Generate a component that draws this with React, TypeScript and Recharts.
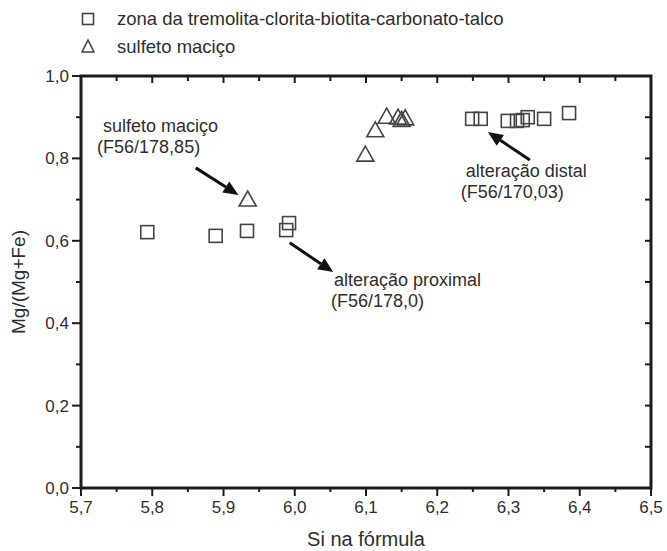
import React from 'react';
import { ScatterChart, Scatter, XAxis, YAxis, ReferenceLine, ReferenceDot } from 'recharts';

// series
const seriesNames = ['zona da tremolita-clorita-biotita-carbonato-talco', 'sulfeto maciço'];
const zonaSi = [5.793, 5.889, 5.933, 5.988, 5.992, 6.249, 6.261, 6.299, 6.312, 6.32, 6.327, 6.35, 6.385];
const zonaMg = [0.621, 0.612, 0.624, 0.626, 0.643, 0.896, 0.896, 0.891, 0.891, 0.893, 0.9, 0.896, 0.91];
const sulfetoSi = [5.934, 6.099, 6.113, 6.129, 6.145, 6.15, 6.155];
const sulfetoMg = [0.699, 0.808, 0.867, 0.9, 0.898, 0.892, 0.896];

// axes
const xTicks = [5.7, 5.75, 5.8, 5.85, 5.9, 5.95, 6.0, 6.05, 6.1, 6.15, 6.2, 6.25, 6.3, 6.35, 6.4, 6.45, 6.5];
const xMajor = [5.7, 5.8, 5.9, 6.0, 6.1, 6.2, 6.3, 6.4, 6.5];
const yTicks = [0, 0.1, 0.2, 0.3, 0.4, 0.5, 0.6, 0.7, 0.8, 0.9, 1.0];
const yMajor = [0, 0.2, 0.4, 0.6, 0.8, 1.0];
const xDomain = [5.7, 6.5];
const yDomain = [0, 1];
const xTitle = 'Si na fórmula';
const yTitle = 'Mg/(Mg+Fe)';

// annotations
const notes = [
  { lines: ['sulfeto maciço', '(F56/178,85)'], at: [5.731, 0.864], dx: [0, -6] },
  { lines: ['alteração proximal', '(F56/178,0)'], at: [6.055, 0.49], dx: [0, -3] },
  { lines: ['alteração distal', '(F56/170,03)'], at: [6.24, 0.755], dx: [0, -5] },
];
const arrows = [
  { from: [5.861, 0.777], to: [5.921, 0.711] },
  { from: [5.993, 0.595], to: [6.054, 0.524] },
  { from: [6.33, 0.796], to: [6.271, 0.864] },
];

const zonaData = zonaSi.map((x, i) => ({ x, y: zonaMg[i] }));
const sulfetoData = sulfetoSi.map((x, i) => ({ x, y: sulfetoMg[i] }));

const FONT = '"Liberation Sans", Arial, sans-serif';
const INK = '#1c1c1c';
const TXT = '#2e2e2e';
const MARK = '#444';

// chart layout
const W = 667;
const H = 551;
const MARGIN = { top: 76, right: 16, bottom: 0, left: 0 };
const Y_AXIS_W = 81;
const X_AXIS_H = 63;
const PLOT_L = MARGIN.left + Y_AXIS_W;
const PLOT_T = MARGIN.top;
const PLOT_W = W - MARGIN.left - MARGIN.right - Y_AXIS_W;
const PLOT_H = H - MARGIN.top - MARGIN.bottom - X_AXIS_H;
const TS = 6; // axis tickSize; the custom ticks draw their own marks

const fmt = (v: number) => v.toFixed(1).replace('.', ',');
const isIn = (list: number[], v: number) => list.some((m) => Math.abs(m - v) < 1e-6);

const BottomTick = (props: any) => {
  const { x, y, payload } = props;
  const y0 = y - TS;
  const major = isIn(xMajor, payload.value);
  return (
    <g>
      <line x1={x} y1={y0} x2={x} y2={y0 + (major ? 8 : 4)} stroke={INK} strokeWidth={2} />
      {major && (
        <text x={x} y={y0 + 25} textAnchor="middle" fontSize={17} fontFamily={FONT} fill={TXT}>
          {fmt(payload.value)}
        </text>
      )}
    </g>
  );
};

const LeftTick = (props: any) => {
  const { x, y, payload } = props;
  const x0 = x + TS;
  const major = isIn(yMajor, payload.value);
  return (
    <g>
      <line x1={x0} y1={y} x2={x0 - (major ? 9 : 5)} y2={y} stroke={INK} strokeWidth={2} />
      {major && (
        <text x={x0 - 12} y={y + 6} textAnchor="end" fontSize={17} fontFamily={FONT} fill={TXT}>
          {fmt(payload.value)}
        </text>
      )}
    </g>
  );
};

const SquareMark = (props: any) => {
  const { cx, cy } = props;
  return <rect x={cx - 6.5} y={cy - 6.5} width={13} height={13} fill="none" stroke={MARK} strokeWidth={1.6} />;
};

const TriangleMark = (props: any) => {
  const { cx, cy } = props;
  return (
    <polygon
      points={`${cx},${cy - 9} ${cx - 8.5},${cy + 6} ${cx + 8.5},${cy + 6}`}
      fill="none"
      stroke={MARK}
      strokeWidth={1.6}
    />
  );
};

const ArrowShape = (props: any) => {
  const { x1, y1, x2, y2 } = props;
  const ang = Math.atan2(y2 - y1, x2 - x1);
  const len = 15;
  const half = 6.5;
  const bx = x2 - len * Math.cos(ang);
  const by = y2 - len * Math.sin(ang);
  const px = -Math.sin(ang) * half;
  const py = Math.cos(ang) * half;
  return (
    <g>
      <line x1={x1} y1={y1} x2={bx} y2={by} stroke="#111" strokeWidth={3} />
      <polygon points={`${x2},${y2} ${bx + px},${by + py} ${bx - px},${by - py}`} fill="#111" />
    </g>
  );
};

const noteShape = (lines: string[], dx: number[]) => (props: any) => {
  const { cx, cy } = props;
  return (
    <text fontSize={18} fontFamily={FONT} fill={TXT}>
      {lines.map((t, i) => (
        <tspan key={i} x={cx + dx[i]} y={cy + i * 21}>
          {t}
        </tspan>
      ))}
    </text>
  );
};

// plot frame with inward ticks on top and right, laid over the chart
const Frame = () => {
  const px = (v: number) => PLOT_L + ((v - xDomain[0]) / (xDomain[1] - xDomain[0])) * PLOT_W;
  const py = (v: number) => PLOT_T + ((yDomain[1] - v) / (yDomain[1] - yDomain[0])) * PLOT_H;
  return (
    <svg width={W} height={H} style={{ position: 'absolute', left: 0, top: 0, pointerEvents: 'none' }}>
      <rect x={PLOT_L} y={PLOT_T} width={PLOT_W} height={PLOT_H} fill="none" stroke={INK} strokeWidth={3} />
      {xTicks
        .filter((t) => !isIn(xDomain, t))
        .map((t) => (
          <line key={'t' + t} x1={px(t)} y1={PLOT_T} x2={px(t)} y2={PLOT_T + (isIn(xMajor, t) ? 7 : 5)} stroke={INK} strokeWidth={2} />
        ))}
      {yTicks
        .filter((t) => !isIn(yDomain, t))
        .map((t) => (
          <line key={'r' + t} x1={PLOT_L + PLOT_W} y1={py(t)} x2={PLOT_L + PLOT_W - 6} y2={py(t)} stroke={INK} strokeWidth={2} />
        ))}
    </svg>
  );
};

export default function App() {
  return (
    <div style={{ position: 'absolute', left: 0, top: 0, width: W, height: H }}>
      <div style={{ position: 'absolute', left: 0, top: 0 }}>
        <ScatterChart width={W} height={H} margin={MARGIN}>
          <XAxis
            type="number"
            dataKey="x"
            domain={xDomain}
            ticks={xTicks}
            interval={0}
            height={X_AXIS_H}
            tickSize={TS}
            tickMargin={0}
            tick={<BottomTick />}
            tickLine={false}
            axisLine={false}
            label={{ value: xTitle, position: 'insideBottom', offset: 5, fontSize: 20, fontFamily: FONT, fill: TXT }}
          />
          <YAxis
            type="number"
            dataKey="y"
            domain={yDomain}
            ticks={yTicks}
            interval={0}
            width={Y_AXIS_W}
            tickSize={TS}
            tickMargin={0}
            tick={<LeftTick />}
            tickLine={false}
            axisLine={false}
            label={{ value: yTitle, angle: -90, position: 'insideLeft', offset: 18, fontSize: 19, fontFamily: FONT, fill: TXT, style: { textAnchor: 'middle' } }}
          />
          {arrows.map((a, i) => (
            <ReferenceLine
              key={'a' + i}
              segment={[{ x: a.from[0], y: a.from[1] }, { x: a.to[0], y: a.to[1] }]}
              shape={ArrowShape}
            />
          ))}
          {notes.map((n, i) => (
            <ReferenceDot key={'n' + i} x={n.at[0]} y={n.at[1]} r={0} shape={noteShape(n.lines, n.dx)} />
          ))}
          <Scatter name={seriesNames[0]} data={zonaData} shape={SquareMark} isAnimationActive={false} />
          <Scatter name={seriesNames[1]} data={sulfetoData} shape={TriangleMark} isAnimationActive={false} />
        </ScatterChart>
      </div>
      <Frame />
      <div style={{ position: 'absolute', left: 0, top: 0, fontFamily: FONT, fontSize: 18.5, color: TXT }}>
        <div style={{ position: 'absolute', top: 8, left: 81, whiteSpace: 'nowrap', display: 'flex', alignItems: 'center' }}>
          <svg width={14} height={22}>
            <rect x={1.5} y={5.5} width={11} height={11} fill="none" stroke={MARK} strokeWidth={1.6} />
          </svg>
          <span style={{ marginLeft: 22 }}>{seriesNames[0]}</span>
        </div>
        <div style={{ position: 'absolute', top: 36, left: 81, whiteSpace: 'nowrap', display: 'flex', alignItems: 'center' }}>
          <svg width={14} height={22}>
            <polygon points="7,4 1,16 13,16" fill="none" stroke={MARK} strokeWidth={1.6} />
          </svg>
          <span style={{ marginLeft: 22 }}>{seriesNames[1]}</span>
        </div>
      </div>
    </div>
  );
}
